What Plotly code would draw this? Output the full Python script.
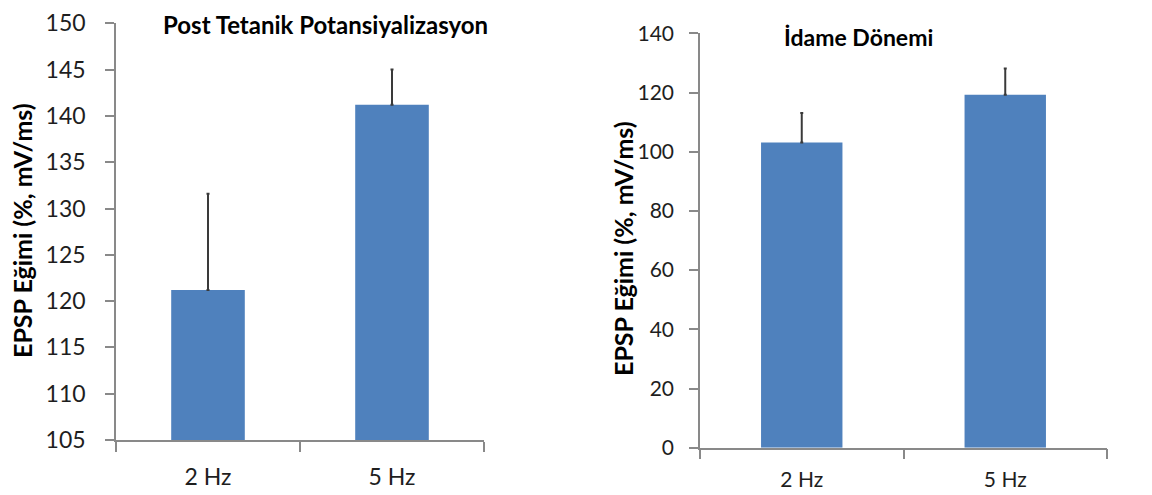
import plotly.graph_objects as go

# Data
categories = ["2 Hz", "5 Hz"]
ptp_mean = [121.2, 141.2]
ptp_err = [10.4, 3.8]
idame_mean = [103.1, 119.2]
idame_err = [10.0, 8.9]

left_ticks = [105, 110, 115, 120, 125, 130, 135, 140, 145, 150]
right_ticks = [0, 20, 40, 60, 80, 100, 120, 140]

BAR = "#4F81BD"
AXIS = "#898989"
ERR = "#3a3a3a"
TICK_TXT = "#1e1e1e"
FONT = "Lato"

W, H = 1152, 495

def px_x(v):
    return v / W

def px_y(v):
    return 1 - v / H

fig = go.Figure()

fig.add_trace(go.Bar(
    x=categories, y=ptp_mean, marker=dict(color=BAR, line=dict(width=0)),
    width=0.4,
    error_y=dict(type="data", symmetric=False, array=ptp_err, arrayminus=[0, 0],
                 color=ERR, thickness=2, width=1.5),
    xaxis="x", yaxis="y", showlegend=False,
))
fig.add_trace(go.Bar(
    x=categories, y=idame_mean, marker=dict(color=BAR, line=dict(width=0)),
    width=0.4,
    error_y=dict(type="data", symmetric=False, array=idame_err, arrayminus=[0, 0],
                 color=ERR, thickness=2, width=1.5),
    xaxis="x2", yaxis="y2", showlegend=False,
))

xcommon = dict(
    type="category", range=[-0.5, 1.5], showline=True, linecolor=AXIS, linewidth=1.5,
    ticks="outside", tickson="boundaries", ticklen=10, tickcolor=AXIS, tickwidth=1.5,
    showgrid=False, zeroline=False, fixedrange=True, automargin=False,
)
ycommon = dict(
    showline=True, linecolor=AXIS, linewidth=1.5, ticks="outside", ticklen=9,
    tickcolor=AXIS, tickwidth=1.5, showgrid=False, zeroline=False, fixedrange=True,
    automargin=False,
)

fig.update_layout(
    width=W, height=H,
    margin=dict(l=0, r=0, t=0, b=0),
    paper_bgcolor="white", plot_bgcolor="white",
    bargap=0.6,
    xaxis=dict(**xcommon, domain=[px_x(116), px_x(484)], anchor="y",
               tickfont=dict(family=FONT, size=23, color=TICK_TXT), ticklabelstandoff=16),
    yaxis=dict(**ycommon, domain=[px_y(440), px_y(23.3)], anchor="x",
               range=[105, 150], tickvals=left_ticks,
               tickfont=dict(family=FONT, size=23, color=TICK_TXT), ticklabelstandoff=15),
    xaxis2=dict(**xcommon, domain=[px_x(700), px_x(1107)], anchor="y2",
                tickfont=dict(family=FONT, size=21, color=TICK_TXT), ticklabelstandoff=12),
    yaxis2=dict(**ycommon, domain=[px_y(447.7), px_y(33.3)], anchor="x2",
                range=[0, 140], tickvals=right_ticks,
                tickfont=dict(family=FONT, size=21, color=TICK_TXT), ticklabelstandoff=11),
)

annotations = [
    dict(text="<b>Post Tetanik Potansiyalizasyon</b>", x=px_x(325), y=px_y(25),
         font=dict(family=FONT, size=24, color="black")),
    dict(text="<b>İdame Dönemi</b>", x=px_x(858), y=px_y(37),
         font=dict(family=FONT, size=23, color="black")),
    dict(text="<b>EPSP Eğimi (%, mV/ms)</b>", x=px_x(22), y=px_y(231), textangle=-90,
         font=dict(family=FONT, size=25, color="black")),
    dict(text="<b>EPSP Eğimi (%, mV/ms)</b>", x=px_x(623), y=px_y(249), textangle=-90,
         font=dict(family=FONT, size=25, color="black")),
]
for a in annotations:
    a.update(xref="paper", yref="paper", showarrow=False, xanchor="center", yanchor="middle")
fig.update_layout(annotations=annotations)

fig.write_html("out.html")
